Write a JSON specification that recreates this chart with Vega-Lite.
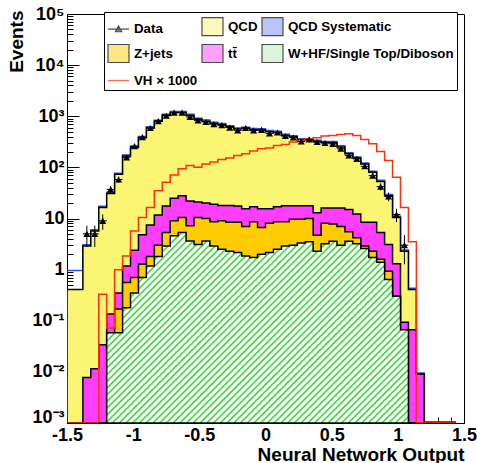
{
  "$schema": "https://vega.github.io/schema/vega-lite/v6.json",
  "width": 397,
  "height": 409,
  "autosize": "none",
  "padding": {"left": 67, "top": 14, "right": 13, "bottom": 40},
  "background": "white",
  "config": {
    "view": {"stroke": "black", "strokeWidth": 1},
    "font": "Liberation Sans",
    "legend": {
      "orient": "none", "legendX": 37, "legendY": -2, "columns": 3, "direction": "horizontal",
      "symbolSize": 441, "symbolStrokeWidth": 1.2,
      "labelFont": "Liberation Sans", "labelFontWeight": "bold", "labelFontSize": 13.3, "labelColor": "black",
      "labelOffset": 4, "labelLimit": 400, "columnPadding": 1, "rowPadding": 4, "padding": 3,
      "strokeColor": "black", "fillColor": "white"
    }
  },
  "resolve": {"axis": {"x": "independent"}},
  "datasets": {
    "h": [
      {"x":-1.5,"x2":-1.44,"xc":-1.47,"qcd":0.41,"shi":0.91,"tt":0,"zj":0,"w":0,"vh":0,"data":null,"dlo":null,"dhi":null},
      {"x":-1.44,"x2":-1.38,"xc":-1.41,"qcd":0.41,"shi":0.91,"tt":0,"zj":0,"w":0,"vh":0,"data":null,"dlo":null,"dhi":null},
      {"x":-1.38,"x2":-1.32,"xc":-1.35,"qcd":2.9,"shi":2.9,"tt":0.0078,"zj":0,"w":0,"vh":0,"data":5,"dlo":2.76,"dhi":7.24},
      {"x":-1.32,"x2":-1.26,"xc":-1.29,"qcd":5.7,"shi":5.7,"tt":0.0115,"zj":0,"w":0,"vh":0,"data":5,"dlo":2.76,"dhi":7.24},
      {"x":-1.26,"x2":-1.2,"xc":-1.23,"qcd":16.5,"shi":16.5,"tt":0.034,"zj":0,"w":0,"vh":0.33,"data":9,"dlo":6,"dhi":12},
      {"x":-1.2,"x2":-1.14,"xc":-1.17,"qcd":31,"shi":31,"tt":0.136,"zj":0.058,"w":0.058,"vh":0.072,"data":37,"dlo":30.9,"dhi":43.1},
      {"x":-1.14,"x2":-1.08,"xc":-1.11,"qcd":73,"shi":73,"tt":0.35,"zj":0.17,"w":0.058,"vh":0.99,"data":58,"dlo":50.4,"dhi":65.6},
      {"x":-1.08,"x2":-1.02,"xc":-1.05,"qcd":166,"shi":166,"tt":1.18,"zj":0.56,"w":0.18,"vh":1.85,"data":157,"dlo":144.5,"dhi":169.5},
      {"x":-1.02,"x2":-0.96,"xc":-0.99,"qcd":245,"shi":245,"tt":2.4,"zj":0.7,"w":0.35,"vh":5.7,"data":260,"dlo":243.9,"dhi":276.1},
      {"x":-0.96,"x2":-0.9,"xc":-0.93,"qcd":380,"shi":380,"tt":4.8,"zj":1.27,"w":0.7,"vh":10.5,"data":390,"dlo":370.3,"dhi":409.7},
      {"x":-0.9,"x2":-0.84,"xc":-0.87,"qcd":589,"shi":589,"tt":7.5,"zj":1.8,"w":1.18,"vh":16.5,"data":589,"dlo":564.7,"dhi":613.3},
      {"x":-0.84,"x2":-0.78,"xc":-0.81,"qcd":794,"shi":794,"tt":11.7,"zj":3.0,"w":1.8,"vh":35,"data":805,"dlo":776.6,"dhi":833.4},
      {"x":-0.78,"x2":-0.72,"xc":-0.75,"qcd":1042,"shi":1042,"tt":17.5,"zj":5.3,"w":2.9,"vh":51,"data":1020,"dlo":988,"dhi":1052},
      {"x":-0.72,"x2":-0.66,"xc":-0.69,"qcd":1178,"shi":1178,"tt":25,"zj":9.0,"w":4.6,"vh":71,"data":1178,"dlo":1143.7,"dhi":1212.3},
      {"x":-0.66,"x2":-0.6,"xc":-0.63,"qcd":1178,"shi":1178,"tt":28,"zj":10.5,"w":5.3,"vh":94,"data":1178,"dlo":1143.7,"dhi":1212.3},
      {"x":-0.6,"x2":-0.54,"xc":-0.57,"qcd":1040,"shi":1040,"tt":22,"zj":7.2,"w":3.65,"vh":109,"data":968,"dlo":936.9,"dhi":999.1},
      {"x":-0.54,"x2":-0.48,"xc":-0.51,"qcd":870,"shi":870,"tt":21,"zj":10.5,"w":3.1,"vh":101,"data":830,"dlo":801.2,"dhi":858.8},
      {"x":-0.48,"x2":-0.42,"xc":-0.45,"qcd":800,"shi":800,"tt":20,"zj":10.0,"w":3.65,"vh":117,"data":772,"dlo":744.2,"dhi":799.8},
      {"x":-0.42,"x2":-0.36,"xc":-0.39,"qcd":720,"shi":720,"tt":19,"zj":8.6,"w":2.9,"vh":127,"data":700,"dlo":673.5,"dhi":726.5},
      {"x":-0.36,"x2":-0.3,"xc":-0.33,"qcd":680,"shi":680,"tt":18,"zj":9.0,"w":2.5,"vh":142,"data":670,"dlo":644.1,"dhi":695.9},
      {"x":-0.3,"x2":-0.24,"xc":-0.27,"qcd":620,"shi":620,"tt":18,"zj":8.4,"w":2.3,"vh":152,"data":600,"dlo":575.5,"dhi":624.5},
      {"x":-0.24,"x2":-0.18,"xc":-0.21,"qcd":560,"shi":560,"tt":17.5,"zj":8.4,"w":2.16,"vh":171,"data":529,"dlo":506,"dhi":552},
      {"x":-0.18,"x2":-0.12,"xc":-0.15,"qcd":580,"shi":580,"tt":15.5,"zj":7.0,"w":1.85,"vh":184,"data":589,"dlo":564.7,"dhi":613.3},
      {"x":-0.12,"x2":-0.06,"xc":-0.09,"qcd":545,"shi":545,"tt":17,"zj":8.6,"w":1.72,"vh":208,"data":529,"dlo":506,"dhi":552},
      {"x":-0.06,"x2":0,"xc":-0.03,"qcd":540,"shi":540,"tt":15.5,"zj":6.7,"w":2.0,"vh":231,"data":540,"dlo":516.8,"dhi":563.2},
      {"x":0,"x2":0.06,"xc":0.03,"qcd":500,"shi":500,"tt":15.5,"zj":8.1,"w":2.16,"vh":238,"data":460,"dlo":438.6,"dhi":481.4},
      {"x":0.06,"x2":0.12,"xc":0.09,"qcd":480,"shi":480,"tt":17,"zj":8.6,"w":2.5,"vh":268,"data":480,"dlo":458.1,"dhi":501.9},
      {"x":0.12,"x2":0.18,"xc":0.15,"qcd":420,"shi":420,"tt":17.8,"zj":8.6,"w":2.9,"vh":281,"data":410,"dlo":389.8,"dhi":430.2},
      {"x":0.18,"x2":0.24,"xc":0.21,"qcd":395,"shi":395,"tt":17.8,"zj":9.7,"w":3.0,"vh":313,"data":385,"dlo":365.4,"dhi":404.6},
      {"x":0.24,"x2":0.3,"xc":0.27,"qcd":345,"shi":345,"tt":17.8,"zj":9.7,"w":3.3,"vh":337,"data":321,"dlo":303.1,"dhi":338.9},
      {"x":0.3,"x2":0.36,"xc":0.33,"qcd":345,"shi":345,"tt":17.8,"zj":10,"w":3.5,"vh":363,"data":352,"dlo":333.2,"dhi":370.8},
      {"x":0.36,"x2":0.42,"xc":0.39,"qcd":320,"shi":320,"tt":13,"zj":4.7,"w":2.3,"vh":380,"data":313,"dlo":295.3,"dhi":330.7},
      {"x":0.42,"x2":0.48,"xc":0.45,"qcd":305,"shi":305,"tt":16,"zj":8.1,"w":3.2,"vh":410,"data":299,"dlo":281.7,"dhi":316.3},
      {"x":0.48,"x2":0.54,"xc":0.51,"qcd":303,"shi":303,"tt":16,"zj":7.8,"w":3.6,"vh":422,"data":288,"dlo":271,"dhi":305},
      {"x":0.54,"x2":0.6,"xc":0.57,"qcd":250,"shi":250,"tt":16,"zj":7.0,"w":3.0,"vh":441,"data":231,"dlo":215.8,"dhi":246.2},
      {"x":0.6,"x2":0.66,"xc":0.63,"qcd":184,"shi":184,"tt":15,"zj":5.5,"w":3.6,"vh":455,"data":171,"dlo":157.9,"dhi":184.1},
      {"x":0.66,"x2":0.72,"xc":0.69,"qcd":152,"shi":152,"tt":12.2,"zj":4.2,"w":3.2,"vh":422,"data":147,"dlo":134.9,"dhi":159.1},
      {"x":0.72,"x2":0.78,"xc":0.75,"qcd":116,"shi":116,"tt":8.4,"zj":2.9,"w":2.6,"vh":352,"data":105,"dlo":94.8,"dhi":115.2},
      {"x":0.78,"x2":0.84,"xc":0.81,"qcd":80,"shi":80,"tt":8.4,"zj":2.3,"w":1.72,"vh":290,"data":69,"dlo":60.7,"dhi":77.3},
      {"x":0.84,"x2":0.9,"xc":0.87,"qcd":53,"shi":53,"tt":5.3,"zj":1.6,"w":1.4,"vh":205,"data":42,"dlo":35.5,"dhi":48.5},
      {"x":0.9,"x2":0.96,"xc":0.93,"qcd":28,"shi":28,"tt":3.1,"zj":0.93,"w":0.64,"vh":136,"data":27,"dlo":21.8,"dhi":32.2},
      {"x":0.96,"x2":1.02,"xc":0.99,"qcd":10.5,"shi":10.5,"tt":1.3,"zj":0.3,"w":0.3,"vh":64,"data":12,"dlo":8.5,"dhi":15.5},
      {"x":1.02,"x2":1.08,"xc":1.05,"qcd":2.3,"shi":2.3,"tt":0.093,"zj":0.067,"w":0.067,"vh":16.5,"data":3,"dlo":1.27,"dhi":4.73},
      {"x":1.08,"x2":1.14,"xc":1.11,"qcd":0.41,"shi":0.41,"tt":0.067,"zj":0,"w":0,"vh":3.5,"data":null,"dlo":null,"dhi":null},
      {"x":1.14,"x2":1.2,"xc":1.17,"qcd":0.009,"shi":0.009,"tt":0.009,"zj":0,"w":0,"vh":0,"data":null,"dlo":null,"dhi":null},
      {"x":1.2,"x2":1.26,"xc":1.23,"qcd":0,"shi":0,"tt":0,"zj":0,"w":0,"vh":0,"data":null,"dlo":null,"dhi":null},
      {"x":1.26,"x2":1.32,"xc":1.29,"qcd":0,"shi":0,"tt":0,"zj":0,"w":0,"vh":0,"data":null,"dlo":null,"dhi":null},
      {"x":1.32,"x2":1.38,"xc":1.35,"qcd":0,"shi":0,"tt":0,"zj":0,"w":0,"vh":0,"data":null,"dlo":null,"dhi":null},
      {"x":1.38,"x2":1.44,"xc":1.41,"qcd":0,"shi":0,"tt":0,"zj":0,"w":0,"vh":0,"data":null,"dlo":null,"dhi":null},
      {"x":1.44,"x2":1.5,"xc":1.47,"qcd":0,"shi":0,"tt":0,"zj":0,"w":0,"vh":0,"data":null,"dlo":null,"dhi":null}
    ],
    "leg": [
      {"s": "Data"}, {"s": "QCD"}, {"s": "QCD Systematic"}, {"s": "Z+jets"}, {"s": "tt̄"},
      {"s": "W+HF/Single Top/Diboson"}, {"s": "VH × 1000"}
    ]
  },
  "data": {"name": "h"},
  "layer": [
    {
      "mark": {"type": "line", "interpolate": "step-after", "stroke": "#2f4fd8", "strokeWidth": 1.5, "yOffset": -1.2, "clip": true},
      "encoding": {
        "x": {
          "field": "x", "type": "quantitative",
          "scale": {"domain": [-1.5, 1.5], "nice": false, "zero": false},
          "axis": {
            "orient": "bottom", "title": null, "labels": false, "domain": false, "grid": false,
            "values": [-1.4,-1.3,-1.2,-1.1,-0.9,-0.8,-0.7,-0.6,-0.4,-0.3,-0.2,-0.1,0.1,0.2,0.3,0.4,0.6,0.7,0.8,0.9,1.1,1.2,1.3,1.4],
            "tickSize": -6, "tickColor": "black"
          }
        },
        "y": {
          "field": "shi", "type": "quantitative",
          "scale": {"type": "log", "domain": [0.001, 100000], "clamp": true, "nice": false},
          "axis": {
            "title": "Events", "titleFont": "Liberation Sans", "titleFontWeight": "bold", "titleFontSize": 19, "titleColor": "black",
            "titleAngle": -90, "titleAlign": "right", "titleAnchor": "end", "titleBaseline": "alphabetic", "titleX": -45, "titleY": -4,
            "values": [0.001,0.002,0.003,0.004,0.005,0.006,0.007,0.008,0.009,0.01,0.02,0.03,0.04,0.05,0.06,0.07,0.08,0.09,0.1,0.2,0.3,0.4,0.5,0.6,0.7,0.8,0.9,1,2,3,4,5,6,7,8,9,10,20,30,40,50,60,70,80,90,100,200,300,400,500,600,700,800,900,1000,2000,3000,4000,5000,6000,7000,8000,9000,10000,20000,30000,40000,50000,60000,70000,80000,90000,100000],
            "labelExpr": "datum.value==100000?'10⁵':datum.value==10000?'10⁴':datum.value==1000?'10³':datum.value==100?'10²':datum.value==10?'10':datum.value==1?'1':datum.value==0.1?'10⁻¹':datum.value==0.01?'10⁻²':datum.value==0.001?'10⁻³':''",
            "labelFont": "Liberation Sans", "labelFontWeight": "bold", "labelFontSize": 18, "labelColor": "black",
            "labelPadding": 15, "labelFlush": false, "labelOverlap": false, "labelBaseline": "middle",
            "labelOffset": {"condition": {"test": "datum.value == 0.001", "value": -6}, "value": 0},
            "tickSize": {"condition": {"test": "indexof([0.001,0.01,0.1,1,10,100,1000,10000,100000], datum.value) >= 0", "value": -12}, "value": -6},
            "tickColor": "black", "domainColor": "black", "grid": false
          }
        }
      }
    },
    {
      "mark": {"type": "area", "interpolate": "step-after", "fill": "#faf673", "stroke": "black", "strokeWidth": 1.5, "clip": true},
      "encoding": {
        "x": {
          "field": "x", "type": "quantitative",
          "axis": {
            "orient": "bottom",
            "title": "Neural Network Output", "titleFont": "Liberation Sans", "titleFontWeight": "bold", "titleFontSize": 19,
            "titleColor": "black", "titleAlign": "right", "titleAnchor": "end", "titleX": 397, "titleY": 37, "titleBaseline": "alphabetic",
            "values": [-1.5,-1,-0.5,0,0.5,1,1.5],
            "labelExpr": "(datum.value < -0.001 ? '-' : '') + format(abs(datum.value), '~g')",
            "labelFont": "Liberation Sans", "labelFontWeight": "bold", "labelFontSize": 18, "labelColor": "black",
            "labelPadding": 14, "labelFlush": false, "labelOverlap": false,
            "tickSize": -11, "tickColor": "black", "domainColor": "black", "grid": false
          }
        },
        "y": {"field": "qcd", "type": "quantitative"},
        "y2": {"datum": 0.001}
      }
    },
    {
      "mark": {"type": "area", "interpolate": "step-after", "fill": "#fe3dfe", "stroke": "black", "strokeWidth": 1.5, "clip": true},
      "encoding": {"x": {"field": "x", "type": "quantitative", "axis": null}, "y": {"field": "tt", "type": "quantitative"}, "y2": {"datum": 0.001}}
    },
    {
      "mark": {"type": "area", "interpolate": "step-after", "fill": "#ffcc00", "stroke": "black", "strokeWidth": 1.5, "clip": true},
      "encoding": {"x": {"field": "x", "type": "quantitative", "axis": null}, "y": {"field": "zj", "type": "quantitative"}, "y2": {"datum": 0.001}}
    },
    {
      "mark": {
        "type": "area", "interpolate": "step-after", "stroke": "black", "strokeWidth": 1.5, "clip": true,
        "fill": {
          "gradient": "linear", "x1": 0, "y1": 0, "x2": 1.2016, "y2": 0.588,
          "stops": [
            {"offset":0,"color":"#22d022"},{"offset":0.0035,"color":"#ffffff"},{"offset":0.0081,"color":"#ffffff"},
            {"offset":0.0116,"color":"#22d022"},{"offset":0.0151,"color":"#ffffff"},{"offset":0.0198,"color":"#ffffff"},
            {"offset":0.0233,"color":"#22d022"},{"offset":0.0267,"color":"#ffffff"},{"offset":0.0314,"color":"#ffffff"},
            {"offset":0.0349,"color":"#22d022"},{"offset":0.0384,"color":"#ffffff"},{"offset":0.043,"color":"#ffffff"},
            {"offset":0.0465,"color":"#22d022"},{"offset":0.05,"color":"#ffffff"},{"offset":0.0547,"color":"#ffffff"},
            {"offset":0.0581,"color":"#22d022"},{"offset":0.0616,"color":"#ffffff"},{"offset":0.0663,"color":"#ffffff"},
            {"offset":0.0698,"color":"#22d022"},{"offset":0.0733,"color":"#ffffff"},{"offset":0.0779,"color":"#ffffff"},
            {"offset":0.0814,"color":"#22d022"},{"offset":0.0849,"color":"#ffffff"},{"offset":0.0895,"color":"#ffffff"},
            {"offset":0.093,"color":"#22d022"},{"offset":0.0965,"color":"#ffffff"},{"offset":0.1012,"color":"#ffffff"},
            {"offset":0.1047,"color":"#22d022"},{"offset":0.1081,"color":"#ffffff"},{"offset":0.1128,"color":"#ffffff"},
            {"offset":0.1163,"color":"#22d022"},{"offset":0.1198,"color":"#ffffff"},{"offset":0.1244,"color":"#ffffff"},
            {"offset":0.1279,"color":"#22d022"},{"offset":0.1314,"color":"#ffffff"},{"offset":0.136,"color":"#ffffff"},
            {"offset":0.1395,"color":"#22d022"},{"offset":0.143,"color":"#ffffff"},{"offset":0.1477,"color":"#ffffff"},
            {"offset":0.1512,"color":"#22d022"},{"offset":0.1547,"color":"#ffffff"},{"offset":0.1593,"color":"#ffffff"},
            {"offset":0.1628,"color":"#22d022"},{"offset":0.1663,"color":"#ffffff"},{"offset":0.1709,"color":"#ffffff"},
            {"offset":0.1744,"color":"#22d022"},{"offset":0.1779,"color":"#ffffff"},{"offset":0.1826,"color":"#ffffff"},
            {"offset":0.186,"color":"#22d022"},{"offset":0.1895,"color":"#ffffff"},{"offset":0.1942,"color":"#ffffff"},
            {"offset":0.1977,"color":"#22d022"},{"offset":0.2012,"color":"#ffffff"},{"offset":0.2058,"color":"#ffffff"},
            {"offset":0.2093,"color":"#22d022"},{"offset":0.2128,"color":"#ffffff"},{"offset":0.2174,"color":"#ffffff"},
            {"offset":0.2209,"color":"#22d022"},{"offset":0.2244,"color":"#ffffff"},{"offset":0.2291,"color":"#ffffff"},
            {"offset":0.2326,"color":"#22d022"},{"offset":0.236,"color":"#ffffff"},{"offset":0.2407,"color":"#ffffff"},
            {"offset":0.2442,"color":"#22d022"},{"offset":0.2477,"color":"#ffffff"},{"offset":0.2523,"color":"#ffffff"},
            {"offset":0.2558,"color":"#22d022"},{"offset":0.2593,"color":"#ffffff"},{"offset":0.264,"color":"#ffffff"},
            {"offset":0.2674,"color":"#22d022"},{"offset":0.2709,"color":"#ffffff"},{"offset":0.2756,"color":"#ffffff"},
            {"offset":0.2791,"color":"#22d022"},{"offset":0.2826,"color":"#ffffff"},{"offset":0.2872,"color":"#ffffff"},
            {"offset":0.2907,"color":"#22d022"},{"offset":0.2942,"color":"#ffffff"},{"offset":0.2988,"color":"#ffffff"},
            {"offset":0.3023,"color":"#22d022"},{"offset":0.3058,"color":"#ffffff"},{"offset":0.3105,"color":"#ffffff"},
            {"offset":0.314,"color":"#22d022"},{"offset":0.3174,"color":"#ffffff"},{"offset":0.3221,"color":"#ffffff"},
            {"offset":0.3256,"color":"#22d022"},{"offset":0.3291,"color":"#ffffff"},{"offset":0.3337,"color":"#ffffff"},
            {"offset":0.3372,"color":"#22d022"},{"offset":0.3407,"color":"#ffffff"},{"offset":0.3453,"color":"#ffffff"},
            {"offset":0.3488,"color":"#22d022"},{"offset":0.3523,"color":"#ffffff"},{"offset":0.357,"color":"#ffffff"},
            {"offset":0.3605,"color":"#22d022"},{"offset":0.364,"color":"#ffffff"},{"offset":0.3686,"color":"#ffffff"},
            {"offset":0.3721,"color":"#22d022"},{"offset":0.3756,"color":"#ffffff"},{"offset":0.3802,"color":"#ffffff"},
            {"offset":0.3837,"color":"#22d022"},{"offset":0.3872,"color":"#ffffff"},{"offset":0.3919,"color":"#ffffff"},
            {"offset":0.3953,"color":"#22d022"},{"offset":0.3988,"color":"#ffffff"},{"offset":0.4035,"color":"#ffffff"},
            {"offset":0.407,"color":"#22d022"},{"offset":0.4105,"color":"#ffffff"},{"offset":0.4151,"color":"#ffffff"},
            {"offset":0.4186,"color":"#22d022"},{"offset":0.4221,"color":"#ffffff"},{"offset":0.4267,"color":"#ffffff"},
            {"offset":0.4302,"color":"#22d022"},{"offset":0.4337,"color":"#ffffff"},{"offset":0.4384,"color":"#ffffff"},
            {"offset":0.4419,"color":"#22d022"},{"offset":0.4453,"color":"#ffffff"},{"offset":0.45,"color":"#ffffff"},
            {"offset":0.4535,"color":"#22d022"},{"offset":0.457,"color":"#ffffff"},{"offset":0.4616,"color":"#ffffff"},
            {"offset":0.4651,"color":"#22d022"},{"offset":0.4686,"color":"#ffffff"},{"offset":0.4733,"color":"#ffffff"},
            {"offset":0.4767,"color":"#22d022"},{"offset":0.4802,"color":"#ffffff"},{"offset":0.4849,"color":"#ffffff"},
            {"offset":0.4884,"color":"#22d022"},{"offset":0.4919,"color":"#ffffff"},{"offset":0.4965,"color":"#ffffff"},
            {"offset":0.5,"color":"#22d022"},{"offset":0.5035,"color":"#ffffff"},{"offset":0.5081,"color":"#ffffff"},
            {"offset":0.5116,"color":"#22d022"},{"offset":0.5151,"color":"#ffffff"},{"offset":0.5198,"color":"#ffffff"},
            {"offset":0.5233,"color":"#22d022"},{"offset":0.5267,"color":"#ffffff"},{"offset":0.5314,"color":"#ffffff"},
            {"offset":0.5349,"color":"#22d022"},{"offset":0.5384,"color":"#ffffff"},{"offset":0.543,"color":"#ffffff"},
            {"offset":0.5465,"color":"#22d022"},{"offset":0.55,"color":"#ffffff"},{"offset":0.5547,"color":"#ffffff"},
            {"offset":0.5581,"color":"#22d022"},{"offset":0.5616,"color":"#ffffff"},{"offset":0.5663,"color":"#ffffff"},
            {"offset":0.5698,"color":"#22d022"},{"offset":0.5733,"color":"#ffffff"},{"offset":0.5779,"color":"#ffffff"},
            {"offset":0.5814,"color":"#22d022"},{"offset":0.5849,"color":"#ffffff"},{"offset":0.5895,"color":"#ffffff"},
            {"offset":0.593,"color":"#22d022"},{"offset":0.5965,"color":"#ffffff"},{"offset":0.6012,"color":"#ffffff"},
            {"offset":0.6047,"color":"#22d022"},{"offset":0.6081,"color":"#ffffff"},{"offset":0.6128,"color":"#ffffff"},
            {"offset":0.6163,"color":"#22d022"},{"offset":0.6198,"color":"#ffffff"},{"offset":0.6244,"color":"#ffffff"},
            {"offset":0.6279,"color":"#22d022"},{"offset":0.6314,"color":"#ffffff"},{"offset":0.636,"color":"#ffffff"},
            {"offset":0.6395,"color":"#22d022"},{"offset":0.643,"color":"#ffffff"},{"offset":0.6477,"color":"#ffffff"},
            {"offset":0.6512,"color":"#22d022"},{"offset":0.6547,"color":"#ffffff"},{"offset":0.6593,"color":"#ffffff"},
            {"offset":0.6628,"color":"#22d022"},{"offset":0.6663,"color":"#ffffff"},{"offset":0.6709,"color":"#ffffff"},
            {"offset":0.6744,"color":"#22d022"},{"offset":0.6779,"color":"#ffffff"},{"offset":0.6826,"color":"#ffffff"},
            {"offset":0.686,"color":"#22d022"},{"offset":0.6895,"color":"#ffffff"},{"offset":0.6942,"color":"#ffffff"},
            {"offset":0.6977,"color":"#22d022"},{"offset":0.7012,"color":"#ffffff"},{"offset":0.7058,"color":"#ffffff"},
            {"offset":0.7093,"color":"#22d022"},{"offset":0.7128,"color":"#ffffff"},{"offset":0.7174,"color":"#ffffff"},
            {"offset":0.7209,"color":"#22d022"},{"offset":0.7244,"color":"#ffffff"},{"offset":0.7291,"color":"#ffffff"},
            {"offset":0.7326,"color":"#22d022"},{"offset":0.736,"color":"#ffffff"},{"offset":0.7407,"color":"#ffffff"},
            {"offset":0.7442,"color":"#22d022"},{"offset":0.7477,"color":"#ffffff"},{"offset":0.7523,"color":"#ffffff"},
            {"offset":0.7558,"color":"#22d022"},{"offset":0.7593,"color":"#ffffff"},{"offset":0.764,"color":"#ffffff"},
            {"offset":0.7674,"color":"#22d022"},{"offset":0.7709,"color":"#ffffff"},{"offset":0.7756,"color":"#ffffff"},
            {"offset":0.7791,"color":"#22d022"},{"offset":0.7826,"color":"#ffffff"},{"offset":0.7872,"color":"#ffffff"},
            {"offset":0.7907,"color":"#22d022"},{"offset":0.7942,"color":"#ffffff"},{"offset":0.7988,"color":"#ffffff"},
            {"offset":0.8023,"color":"#22d022"},{"offset":0.8058,"color":"#ffffff"},{"offset":0.8105,"color":"#ffffff"},
            {"offset":0.814,"color":"#22d022"},{"offset":0.8174,"color":"#ffffff"},{"offset":0.8221,"color":"#ffffff"},
            {"offset":0.8256,"color":"#22d022"},{"offset":0.8291,"color":"#ffffff"},{"offset":0.8337,"color":"#ffffff"},
            {"offset":0.8372,"color":"#22d022"},{"offset":0.8407,"color":"#ffffff"},{"offset":0.8453,"color":"#ffffff"},
            {"offset":0.8488,"color":"#22d022"},{"offset":0.8523,"color":"#ffffff"},{"offset":0.857,"color":"#ffffff"},
            {"offset":0.8605,"color":"#22d022"},{"offset":0.864,"color":"#ffffff"},{"offset":0.8686,"color":"#ffffff"},
            {"offset":0.8721,"color":"#22d022"},{"offset":0.8756,"color":"#ffffff"},{"offset":0.8802,"color":"#ffffff"},
            {"offset":0.8837,"color":"#22d022"},{"offset":0.8872,"color":"#ffffff"},{"offset":0.8919,"color":"#ffffff"},
            {"offset":0.8953,"color":"#22d022"},{"offset":0.8988,"color":"#ffffff"},{"offset":0.9035,"color":"#ffffff"},
            {"offset":0.907,"color":"#22d022"},{"offset":0.9105,"color":"#ffffff"},{"offset":0.9151,"color":"#ffffff"},
            {"offset":0.9186,"color":"#22d022"},{"offset":0.9221,"color":"#ffffff"},{"offset":0.9267,"color":"#ffffff"},
            {"offset":0.9302,"color":"#22d022"},{"offset":0.9337,"color":"#ffffff"},{"offset":0.9384,"color":"#ffffff"},
            {"offset":0.9419,"color":"#22d022"},{"offset":0.9453,"color":"#ffffff"},{"offset":0.95,"color":"#ffffff"},
            {"offset":0.9535,"color":"#22d022"},{"offset":0.957,"color":"#ffffff"},{"offset":0.9616,"color":"#ffffff"},
            {"offset":0.9651,"color":"#22d022"},{"offset":0.9686,"color":"#ffffff"},{"offset":0.9733,"color":"#ffffff"},
            {"offset":0.9767,"color":"#22d022"},{"offset":0.9802,"color":"#ffffff"},{"offset":0.9849,"color":"#ffffff"},
            {"offset":0.9884,"color":"#22d022"},{"offset":0.9919,"color":"#ffffff"},{"offset":0.9965,"color":"#ffffff"},
            {"offset":1,"color":"#22d022"}
          ]
        }
      },
      "encoding": {"x": {"field": "x", "type": "quantitative", "axis": null}, "y": {"field": "w", "type": "quantitative"}, "y2": {"datum": 0.001}}
    },
    {
      "mark": {"type": "line", "interpolate": "step-after", "stroke": "#ff3010", "strokeWidth": 1.5, "clip": true},
      "encoding": {"x": {"field": "x", "type": "quantitative", "axis": null}, "y": {"field": "vh", "type": "quantitative"}}
    },
    {
      "mark": {"type": "rule", "color": "black", "strokeWidth": 1},
      "encoding": {"x": {"field": "xc", "type": "quantitative", "axis": null}, "y": {"field": "dlo", "type": "quantitative"}, "y2": {"field": "dhi"}}
    },
    {
      "mark": {"type": "rule", "color": "black", "strokeWidth": 1},
      "encoding": {"x": {"field": "x", "type": "quantitative", "axis": null}, "x2": {"field": "x2"}, "y": {"field": "data", "type": "quantitative"}}
    },
    {
      "mark": {"type": "point", "shape": "triangle-up", "filled": true, "color": "black", "size": 50, "opacity": 1},
      "encoding": {"x": {"field": "xc", "type": "quantitative", "axis": null}, "y": {"field": "data", "type": "quantitative"}}
    },
    {
      "data": {"name": "leg"},
      "transform": [{"filter": "datum.s == 'none'"}],
      "mark": {"type": "point"},
      "encoding": {
        "fill": {
          "field": "s", "type": "nominal",
          "scale": {"domain": ["Data", "QCD", "QCD Systematic", "Z+jets", "tt̄", "W+HF/Single Top/Diboson", "VH × 1000"],
                    "range": ["black", "#faf673", "#7088ee", "#ffcc00", "#fe3dfe", "#b8ecb8", "transparent"]},
          "legend": {"title": null}
        },
        "stroke": {
          "field": "s", "type": "nominal",
          "scale": {"domain": ["Data", "QCD", "QCD Systematic", "Z+jets", "tt̄", "W+HF/Single Top/Diboson", "VH × 1000"],
                    "range": ["black", "black", "black", "black", "black", "black", "#ff3010"]},
          "legend": {"title": null}
        },
        "shape": {
          "field": "s", "type": "nominal",
          "scale": {"domain": ["Data", "QCD", "QCD Systematic", "Z+jets", "tt̄", "W+HF/Single Top/Diboson", "VH × 1000"],
                    "range": ["M-1,0H1M-0.3,0.25L0,-0.3L0.3,0.25Z", "M-1,-0.857H1V0.857H-1Z", "M-1,-0.857H1V0.857H-1Z", "M-1,-0.857H1V0.857H-1Z", "M-1,-0.857H1V0.857H-1Z", "M-1,-0.857H1V0.857H-1Z", "M-1,0H1"]},
          "legend": {"title": null}
        }
      }
    }
  ]
}
